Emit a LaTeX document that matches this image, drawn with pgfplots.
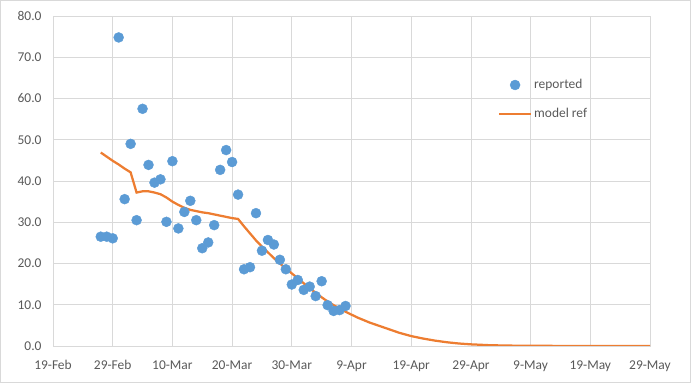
\documentclass[border=0pt]{standalone}
\usepackage{pgfplots}
\pgfplotsset{compat=1.18}
\usepackage{fontspec}
\setmainfont{Carlito}
\definecolor{gridc}{HTML}{D9D9D9}
\definecolor{txtc}{HTML}{595959}
\definecolor{bluec}{HTML}{5B9BD5}
\definecolor{orangec}{HTML}{ED7D31}
\begin{document}
\begin{tikzpicture}
\begin{axis}[
  name=ax,
  scale only axis,
  width=597bp, height=330bp,
  xmin=0, xmax=100, ymin=0, ymax=80,
  xtick={0,10,...,100},
  xticklabels={19-Feb,29-Feb,10-Mar,20-Mar,30-Mar,9-Apr,19-Apr,29-Apr,9-May,19-May,29-May},
  ytick={0,10,...,80},
  /pgf/number format/assume math mode=true,
  /pgf/number format/fixed,
  /pgf/number format/fixed zerofill,
  /pgf/number format/precision=1,
  tick label style={font=\fontsize{13.5}{15}\selectfont, text=txtc},
  yticklabel style={xshift=-8bp},
  xticklabel style={yshift=-11bp},
  major tick length=0pt,
  grid=major,
  grid style={gridc, line width=0.75bp},
  axis line style={gridc, line width=0.75bp},
  legend style={draw=none, fill=none, at={(0.74,0.82)}, anchor=north west,
    font=\fontsize{13.5}{15}\selectfont, text=txtc, row sep=14bp,
    cells={anchor=west}},
  legend cell align=left,
]
\addplot[only marks, mark=*, mark size=5bp, color=bluec,
  legend image code/.code={\fill[bluec] (16bp,0bp) circle[radius=5bp]; \path[draw=none] (0bp,0bp) -- (32bp,0bp);}]
coordinates {
(8,26.5)(9,26.5)(10,26.1)(11,74.8)(12,35.6)(13,49.0)(14,30.5)(15,57.5)(16,43.9)(17,39.6)
(18,40.4)(19,30.1)(20,44.8)(21,28.5)(22,32.5)(23,35.2)(24,30.5)(25,23.7)(26,25.1)(27,29.3)
(28,42.7)(29,47.5)(30,44.6)(31,36.7)(32,18.6)(33,19.1)(34,32.2)(35,23.1)(36,25.7)(37,24.6)
(38,20.9)(39,18.6)(40,14.9)(41,16.0)(42,13.6)(43,14.4)(44,12.1)(45,15.7)(46,9.9)(47,8.5)
(48,8.7)(49,9.7)
};
\addlegendentry{reported}
\addplot[orangec, line width=2.25bp, no marks,
  legend image code/.code={\draw[orangec, line width=2.25bp] (0bp,0bp) -- (32bp,0bp);}]
coordinates {
(8,46.9)(9,45.9)(10,44.9)(11,44.0)(12,43.0)(13,42.1)(14,37.2)(15,37.5)(16,37.5)(17,37.2)
(18,36.8)(19,36.0)(20,35.0)(21,34.2)(22,33.5)(23,33.0)(24,32.7)(25,32.4)(26,32.2)(27,31.9)
(28,31.6)(29,31.3)(30,31.0)(31,30.8)(32,29.0)(33,27.3)(34,25.6)(35,24.1)(36,22.7)(37,21.3)
(38,20.0)(39,18.8)(40,17.6)(41,16.4)(42,15.2)(43,14.0)(44,12.9)(45,11.8)(46,10.8)(47,9.9)
(48,9.1)(49,8.3)(50,7.6)(51,6.9)(52,6.3)(53,5.7)(54,5.2)(55,4.7)(56,4.2)(57,3.7)(58,3.2)
(59,2.8)(60,2.4)(62,1.8)(64,1.3)(66,0.9)(68,0.6)(70,0.4)(73,0.2)(76,0.1)(80,0.05)(85,0.02)
(90,0.01)(100,0)
};
\addlegendentry{model ref}
\end{axis}
\path[use as bounding box] ([xshift=-53bp,yshift=-39bp]ax.south west) rectangle ([xshift=41bp,yshift=16bp]ax.north east);
\draw[gridc, line width=0.75bp] ([xshift=-52.5bp,yshift=-36.5bp]ax.south west) rectangle ([xshift=40bp,yshift=15.5bp]ax.north east);
\end{tikzpicture}
\end{document}
